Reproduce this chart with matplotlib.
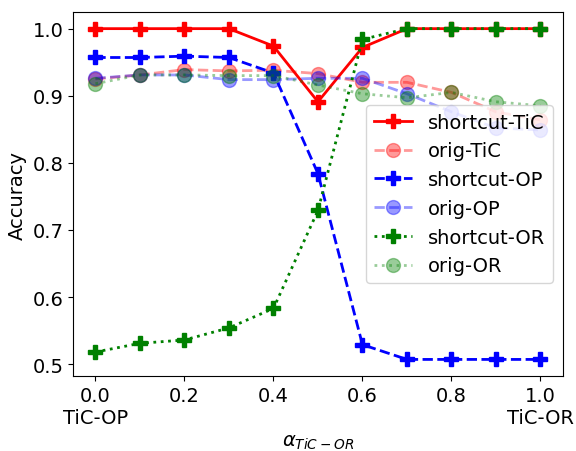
import numpy as np
import matplotlib.pyplot as plt

alpha = [0.0, 0.1, 0.2, 0.3, 0.4, 0.5, 0.6, 0.7, 0.8, 0.9, 1.0]

shortcut_tic = [1.0, 1.0, 1.0, 1.0, 0.974, 0.891, 0.972, 1.0, 1.0, 1.0, 1.0]
orig_tic = [0.925, 0.931, 0.939, 0.937, 0.938, 0.933, 0.920, 0.920, 0.905, 0.876, 0.864]
shortcut_op = [0.957, 0.957, 0.959, 0.957, 0.934, 0.784, 0.529, 0.507, 0.507, 0.507, 0.507]
orig_op = [0.926, 0.931, 0.931, 0.924, 0.924, 0.926, 0.926, 0.903, 0.876, 0.852, 0.849]
shortcut_or = [0.518, 0.531, 0.536, 0.554, 0.583, 0.729, 0.984, 1.0, 1.0, 1.0, 1.0]
orig_or = [0.918, 0.931, 0.931, 0.930, 0.930, 0.916, 0.903, 0.897, 0.905, 0.891, 0.885]

xticks = [0.0, 0.2, 0.4, 0.6, 0.8, 1.0]
xticklabels = ['0.0\nTiC-OP', '0.2', '0.4', '0.6', '0.8', '1.0\nTiC-OR']

plt.rcParams['font.size'] = 14

fig = plt.figure(figsize=(5.76, 4.52), dpi=100)
ax = fig.add_axes([0.127, 0.166, 0.85, 0.805])

ax.plot(alpha, shortcut_tic, color='red', linestyle='-', marker='P', markersize=10, linewidth=2, label='shortcut-TiC')
ax.plot(alpha, orig_tic, color='red', linestyle='--', marker='o', markersize=10, linewidth=2, alpha=0.4, label='orig-TiC')
ax.plot(alpha, shortcut_op, color='blue', linestyle='--', marker='P', markersize=10, linewidth=2, label='shortcut-OP')
ax.plot(alpha, orig_op, color='blue', linestyle='--', marker='o', markersize=10, linewidth=2, alpha=0.4, label='orig-OP')
ax.plot(alpha, shortcut_or, color='green', linestyle=':', marker='P', markersize=10, linewidth=2, label='shortcut-OR')
ax.plot(alpha, orig_or, color='green', linestyle=':', marker='o', markersize=10, linewidth=2, alpha=0.4, label='orig-OR')

ax.set_xticks(xticks)
ax.set_xticklabels(xticklabels)
ax.set_xlabel(r'$\alpha_{TiC-OR}$')
ax.set_ylabel('Accuracy')
ax.legend(loc='center right')

fig.savefig('out.png')
